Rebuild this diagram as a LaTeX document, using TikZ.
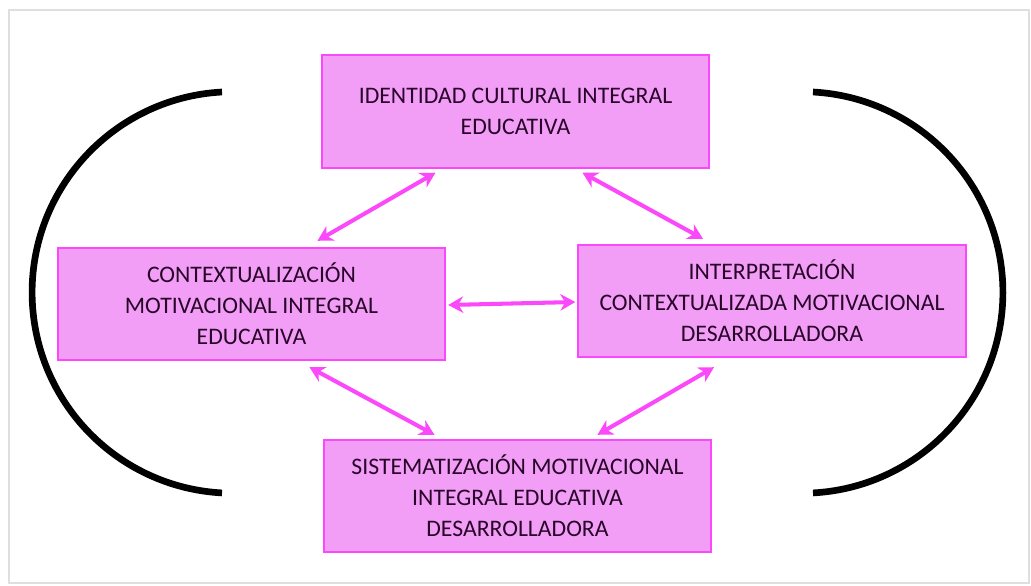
\documentclass[tikz,border=0pt]{standalone}
\usepackage{fontspec}
\setmainfont{Carlito}
\usetikzlibrary{arrows.meta,calc}

\definecolor{boxfill}{RGB}{242,158,246}
\definecolor{boxline}{RGB}{250,72,250}
\definecolor{boxtext}{RGB}{40,5,40}

\begin{document}
\begin{tikzpicture}[x=0.02cm,y=-0.02cm,
  concept/.style={rectangle,draw=boxline,fill=boxfill,line width=1.1pt,
    minimum width=7.75cm,minimum height=2.25cm,align=center,
    font=\fontsize{13.5}{17.6}\selectfont,text=boxtext},
  link/.style={{Stealth[length=3mm,width=3.3mm]}-{Stealth[length=3mm,width=3.3mm]},
    draw=boxline,line width=2.3pt},
  bracket/.style={line width=3.8pt,black}]
  \useasboundingbox (0,0) rectangle (1031,585);
  \draw[gray!25,line width=1.5pt] (9,10) rectangle (1029,583);

  \node[concept] (ident)  at (515.5,111.5) {IDENTIDAD CULTURAL INTEGRAL\\EDUCATIVA};
  \node[concept] (contex) at (251.5,304)   {CONTEXTUALIZACIÓN\\MOTIVACIONAL INTEGRAL\\EDUCATIVA};
  \node[concept] (interp) at (772,301)     {INTERPRETACIÓN\\CONTEXTUALIZADA MOTIVACIONAL\\DESARROLLADORA};
  \node[concept] (sistem) at (517.5,496)   {SISTEMATIZACIÓN MOTIVACIONAL\\INTEGRAL EDUCATIVA\\DESARROLLADORA};

  \draw[link] ($(ident.south)+(-80,4)$) -- ($(contex.north)+(66,-6)$);
  \draw[link] ($(ident.south)+(67,4)$) -- ($(interp.north)+(-69,-5)$);
  \draw[link] ($(contex.east)+(2,1)$) -- ($(interp.west)+(-2,1)$);
  \draw[link] ($(contex.south)+(58,6)$) -- ($(sistem.north)+(-83,-4)$);
  \draw[link] ($(interp.south)+(-58,9)$) -- ($(sistem.north)+(80,-4)$);

  % the two round brackets
  \draw[bracket] (222,92) arc[start angle=93.1,end angle=266.9,radius=4.016cm];
  \draw[bracket] (813,92) arc[start angle=86.9,end angle=-86.9,radius=4.016cm];
\end{tikzpicture}
\end{document}
